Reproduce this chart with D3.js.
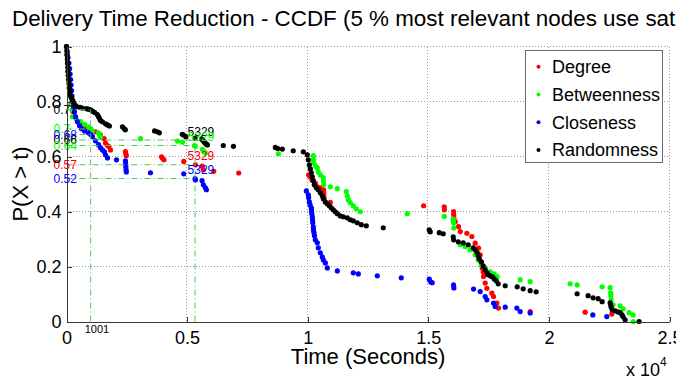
<!DOCTYPE html>
<html>
<head>
<meta charset="utf-8">
<script src="https://cdn.jsdelivr.net/npm/d3@7"></script>
<style>
  body { margin: 0; background: #fff; }
  svg { display: block; font-family: "Liberation Sans", Arial, Helvetica, sans-serif; }
</style>
</head>
<body>
<svg id="chart" width="676" height="378"></svg>
<script>
// CCDF of delivery times, [time in seconds, P(X > t)]
const degreePts = [[0,1],[20,0.97],[40,0.94],[60,0.91],[80,0.88],[110,0.85],[150,0.82],[200,0.79],[260,0.765],[330,0.745],[450,0.73],[600,0.715],[800,0.705],[1000,0.7],[1200,0.69],[1400,0.68],[1560,0.665],[1616,0.649],[1700,0.64],[1754,0.636],[1823,0.624],[2444,0.618],[2460,0.61],[2480,0.603],[3940,0.599],[3980,0.594],[4040,0.588],[4860,0.582],[5344,0.57],[5620,0.565],[5676,0.552],[6104,0.546],[7140,0.54],[10040,0.533],[10100,0.526],[10178,0.515],[10316,0.503],[10385,0.491],[10523,0.486],[10661,0.479],[10665,0.468],[10670,0.457],[10680,0.449],[10938,0.433],[14805,0.421],[15661,0.417],[15670,0.406],[16047,0.4],[16055,0.388],[16060,0.377],[16116,0.363],[16255,0.345],[16324,0.327],[16600,0.321],[16807,0.309],[16945,0.285],[17084,0.267],[17152,0.242],[17194,0.217],[17235,0.195],[17277,0.181],[17290,0.164],[17359,0.14],[17429,0.121],[17636,0.103],[17705,0.091],[17843,0.067],[17912,0.049],[19224,0.036],[21502,0.034],[22607,0.027]];

const betweennessPts = [[0,1],[20,0.97],[40,0.94],[60,0.91],[80,0.88],[110,0.85],[150,0.82],[190,0.795],[230,0.77],[249,0.745],[414,0.735],[580,0.727],[746,0.717],[911,0.708],[1001,0.7],[1077,0.692],[1326,0.686],[1367,0.678],[1409,0.669],[3066,0.665],[4599,0.656],[4806,0.652],[5300,0.64],[5344,0.637],[5634,0.626],[5700,0.618],[5760,0.613],[8783,0.61],[10233,0.603],[10240,0.588],[10250,0.577],[10316,0.566],[10399,0.559],[10440,0.544],[10523,0.533],[10648,0.523],[10655,0.511],[10660,0.497],[10938,0.49],[11228,0.483],[11600,0.472],[11642,0.457],[11683,0.443],[11766,0.432],[11890,0.421],[12015,0.41],[12180,0.399],[14128,0.392],[15661,0.382],[16033,0.372],[16040,0.364],[16050,0.358],[16060,0.34],[16324,0.279],[16530,0.272],[16738,0.261],[16945,0.243],[17070,0.224],[17194,0.206],[17359,0.195],[17566,0.181],[17732,0.173],[17857,0.163],[18809,0.152],[19224,0.145],[20881,0.137],[21171,0.133],[22206,0.126],[22538,0.123],[22560,0.104],[22570,0.094],[22580,0.079],[22662,0.061],[22952,0.057],[23077,0.046],[23325,0.032],[23491,0.024],[23500,0]];

const closenessPts = [[0,1],[30,0.98],[60,0.96],[100,0.94],[130,0.92],[150,0.9],[170,0.88],[190,0.86],[210,0.84],[230,0.82],[249,0.8],[290,0.781],[332,0.763],[373,0.745],[456,0.726],[539,0.712],[621,0.701],[746,0.693],[911,0.686],[1001,0.68],[1077,0.672],[1201,0.657],[1326,0.643],[1409,0.632],[1491,0.624],[1574,0.617],[1616,0.606],[1699,0.595],[2072,0.588],[2444,0.584],[2450,0.573],[2460,0.563],[2470,0.552],[2480,0.544],[3480,0.541],[4861,0.537],[5329,0.52],[5344,0.515],[5620,0.512],[5676,0.497],[5759,0.486],[5800,0.479],[9943,0.475],[10026,0.461],[10040,0.45],[10067,0.435],[10100,0.424],[10150,0.413],[10160,0.402],[10170,0.392],[10192,0.381],[10200,0.37],[10210,0.359],[10233,0.344],[10240,0.333],[10260,0.323],[10280,0.312],[10316,0.297],[10399,0.286],[10440,0.268],[10523,0.25],[10606,0.235],[10648,0.224],[10731,0.213],[10813,0.195],[11228,0.184],[11890,0.177],[12098,0.173],[12885,0.166],[13879,0.159],[15039,0.154],[15100,0.144],[15163,0.141],[16047,0.133],[16060,0.122],[16876,0.118],[17152,0.109],[17359,0.091],[17429,0.079],[17705,0.067],[17774,0.055],[18188,0.052],[18671,0.049],[18809,0.036],[19224,0.031],[21820,0.024],[22400,0.018]];

const randomnessPts = [[0,1],[15,0.985],[25,0.97],[35,0.955],[45,0.94],[55,0.925],[65,0.91],[75,0.895],[90,0.88],[105,0.865],[120,0.85],[140,0.835],[170,0.822],[210,0.812],[260,0.803],[300,0.795],[360,0.787],[440,0.781],[560,0.779],[660,0.776],[830,0.774],[910,0.772],[1001,0.77],[1080,0.765],[1170,0.76],[1280,0.752],[1330,0.745],[1370,0.738],[1410,0.731],[1490,0.726],[1620,0.719],[1700,0.715],[1780,0.711],[2320,0.708],[2400,0.701],[2440,0.697],[3650,0.693],[3770,0.69],[3850,0.686],[4800,0.681],[4850,0.678],[4950,0.672],[5329,0.667],[5600,0.664],[5650,0.66],[5680,0.656],[5720,0.652],[5760,0.648],[5800,0.645],[5840,0.642],[6500,0.64],[6920,0.637],[8660,0.633],[8760,0.629],[8950,0.627],[9400,0.621],[9820,0.617],[9985,0.606],[10026,0.588],[10067,0.57],[10109,0.555],[10150,0.541],[10192,0.526],[10233,0.512],[10275,0.497],[10357,0.486],[10440,0.479],[10523,0.468],[10606,0.457],[10648,0.446],[10731,0.435],[10813,0.428],[10896,0.421],[10979,0.413],[11062,0.406],[11145,0.399],[11228,0.392],[11352,0.384],[11476,0.381],[11642,0.377],[11766,0.37],[11890,0.366],[12056,0.359],[12222,0.352],[12429,0.348],[13133,0.341],[15039,0.333],[15081,0.326],[15454,0.323],[15619,0.319],[16033,0.308],[16050,0.297],[16241,0.29],[16448,0.286],[16655,0.279],[16862,0.268],[16945,0.261],[17028,0.25],[17070,0.239],[17111,0.228],[17194,0.217],[17277,0.202],[17359,0.188],[17442,0.177],[17484,0.17],[17566,0.166],[17649,0.163],[17732,0.155],[17815,0.148],[17898,0.137],[18188,0.13],[18685,0.126],[18934,0.119],[19224,0.112],[19472,0.108],[21171,0.101],[21626,0.094],[21834,0.086],[22041,0.083],[22206,0.072],[22538,0.068],[22560,0.061],[22580,0.053],[22621,0.043],[22745,0.039],[22869,0.035],[22952,0.032],[23035,0.024],[23077,0.017],[23160,0.006],[23739,0]];

const seriesNames = ["Degree", "Betweenness", "Closeness", "Randomness"];

// reference readings: time and the P level reached by each strategy
const earlyTime = 1001;
const earlyLevels = [["Randomness", 0.77], ["Betweenness", 0.7], ["Closeness", 0.68]];
const lateTime = 5329;
const lateLevels = [["Randomness", 0.66], ["Betweenness", 0.64], ["Degree", 0.57], ["Closeness", 0.52]];

const xTicks = [0, 5000, 10000, 15000, 20000, 25000];
const xTickLabels = ["0", "0.5", "1", "1.5", "2", "2.5"];
const yTicks = [0, 0.2, 0.4, 0.6, 0.8, 1];
const yTickLabels = ["0", "0.2", "0.4", "0.6", "0.8", "1"];

const titleText = "Delivery Time Reduction - CCDF (5 % most relevant nodes use sat";
const xLabel = "Time (Seconds)";
const yLabel = "P(X > t)";

// ---- drawing ----
const colors = { Degree: "#ff0000", Betweenness: "#00ff00", Closeness: "#0000ff", Randomness: "#000000" };
const pointsBy = { Degree: degreePts, Betweenness: betweennessPts, Closeness: closenessPts, Randomness: randomnessPts };

const svg = d3.select("#chart");
const L = 66.5, R = 669.5, T = 46.5, B = 321.5;
const x = d3.scaleLinear().domain([0, 25000]).range([L, R]);
const y = d3.scaleLinear().domain([0, 1]).range([B, T]);

// dotted grid
const grid = svg.append("g").attr("stroke", "#9a9a9a").attr("stroke-width", 1)
  .attr("stroke-dasharray", "1,2").attr("shape-rendering", "crispEdges");
grid.selectAll("line.gx").data(xTicks.slice(1)).join("line").attr("class", "gx")
  .attr("x1", d => Math.round(x(d)) - 0.5).attr("x2", d => Math.round(x(d)) - 0.5)
  .attr("y1", T).attr("y2", B);
grid.selectAll("line.gy").data(yTicks.slice(1)).join("line").attr("class", "gy")
  .attr("x1", L).attr("x2", R)
  .attr("y1", d => y(d)).attr("y2", d => y(d));

// series dots
seriesNames.forEach(name => {
  svg.append("g").attr("fill", colors[name])
    .selectAll("circle").data(pointsBy[name]).join("circle")
    .attr("cx", d => x(d[0])).attr("cy", d => y(d[1])).attr("r", 2.6);
});

// reference guide lines (dash-dot)
const guides = svg.append("g").attr("stroke", "#55c455").attr("stroke-width", 1)
  .attr("stroke-dasharray", "6,3,1,3").attr("fill", "none");
function drawGuides(t, levels) {
  const top = d3.max(levels, d => d[1]);
  guides.append("line").attr("x1", x(t)).attr("x2", x(t)).attr("y1", y(0)).attr("y2", y(top));
  levels.forEach(([, p]) => {
    guides.append("line").attr("x1", x(0)).attr("x2", x(t)).attr("y1", y(p)).attr("y2", y(p));
  });
}
drawGuides(earlyTime, earlyLevels);
drawGuides(lateTime, lateLevels);

// level labels at the left edge
const ann = svg.append("g").attr("font-size", 12);
earlyLevels.concat(lateLevels).forEach(([name, p]) => {
  ann.append("text").attr("x", x(0) - 13).attr("y", y(p)).attr("dy", "0.35em")
    .attr("fill", colors[name]).text(d3.format("")(p));
});
// time labels next to the later reading
lateLevels.forEach(([name, p]) => {
  ann.append("text").attr("x", x(lateTime) - 7.5).attr("y", y(p) - 4.5)
    .attr("fill", colors[name]).text(lateTime);
});
ann.append("text").attr("x", x(earlyTime) - 6).attr("y", B + 11.5)
  .attr("font-size", 11).attr("fill", "#000").text(earlyTime);

// axes
const xAxis = d3.axisBottom(x).tickValues(xTicks).tickFormat((d, i) => xTickLabels[i])
  .tickSizeInner(-5).tickSizeOuter(0).tickPadding(10);
const yAxis = d3.axisLeft(y).tickValues(yTicks).tickFormat((d, i) => yTickLabels[i])
  .tickSizeInner(-5).tickSizeOuter(0).tickPadding(5);
const gx = svg.append("g").attr("transform", `translate(0,${B})`).call(xAxis);
const gy = svg.append("g").attr("transform", `translate(${L},0)`).call(yAxis);
[gx, gy].forEach(g => {
  g.selectAll("path, line").attr("stroke", "#3a3a3a").attr("shape-rendering", "crispEdges");
  g.selectAll("text").attr("font-size", 18).attr("fill", "#000")
    .attr("font-family", "'Liberation Sans', Arial, sans-serif");
});

// exponent note
const ex = svg.append("text").attr("x", 626).attr("y", 376).attr("font-size", 18);
ex.append("tspan").text("x 10");
ex.append("tspan").attr("font-size", 12).attr("dy", -10).text("4");

// titles
svg.append("text").attr("x", 12).attr("y", 26).attr("font-size", 22.4).text(titleText);
svg.append("text").attr("x", (L + R) / 2).attr("y", 364).attr("font-size", 22)
  .attr("text-anchor", "middle").text(xLabel);
svg.append("text").attr("transform", `translate(28,${(T + B) / 2}) rotate(-90)`)
  .attr("font-size", 22).attr("text-anchor", "middle").text(yLabel);

// legend
const lg = svg.append("g");
lg.append("rect").attr("x", 525.5).attr("y", 50.5).attr("width", 137).attr("height", 112)
  .attr("fill", "#fff").attr("stroke", "#6a6a6a");
seriesNames.forEach((name, i) => {
  const cy = 66.7 + i * 27.8;
  lg.append("circle").attr("cx", 538.5).attr("cy", cy).attr("r", 2).attr("fill", colors[name]);
  lg.append("text").attr("x", 552).attr("y", cy).attr("dy", "0.35em").attr("font-size", 18).text(name);
});
</script>
</body>
</html>
